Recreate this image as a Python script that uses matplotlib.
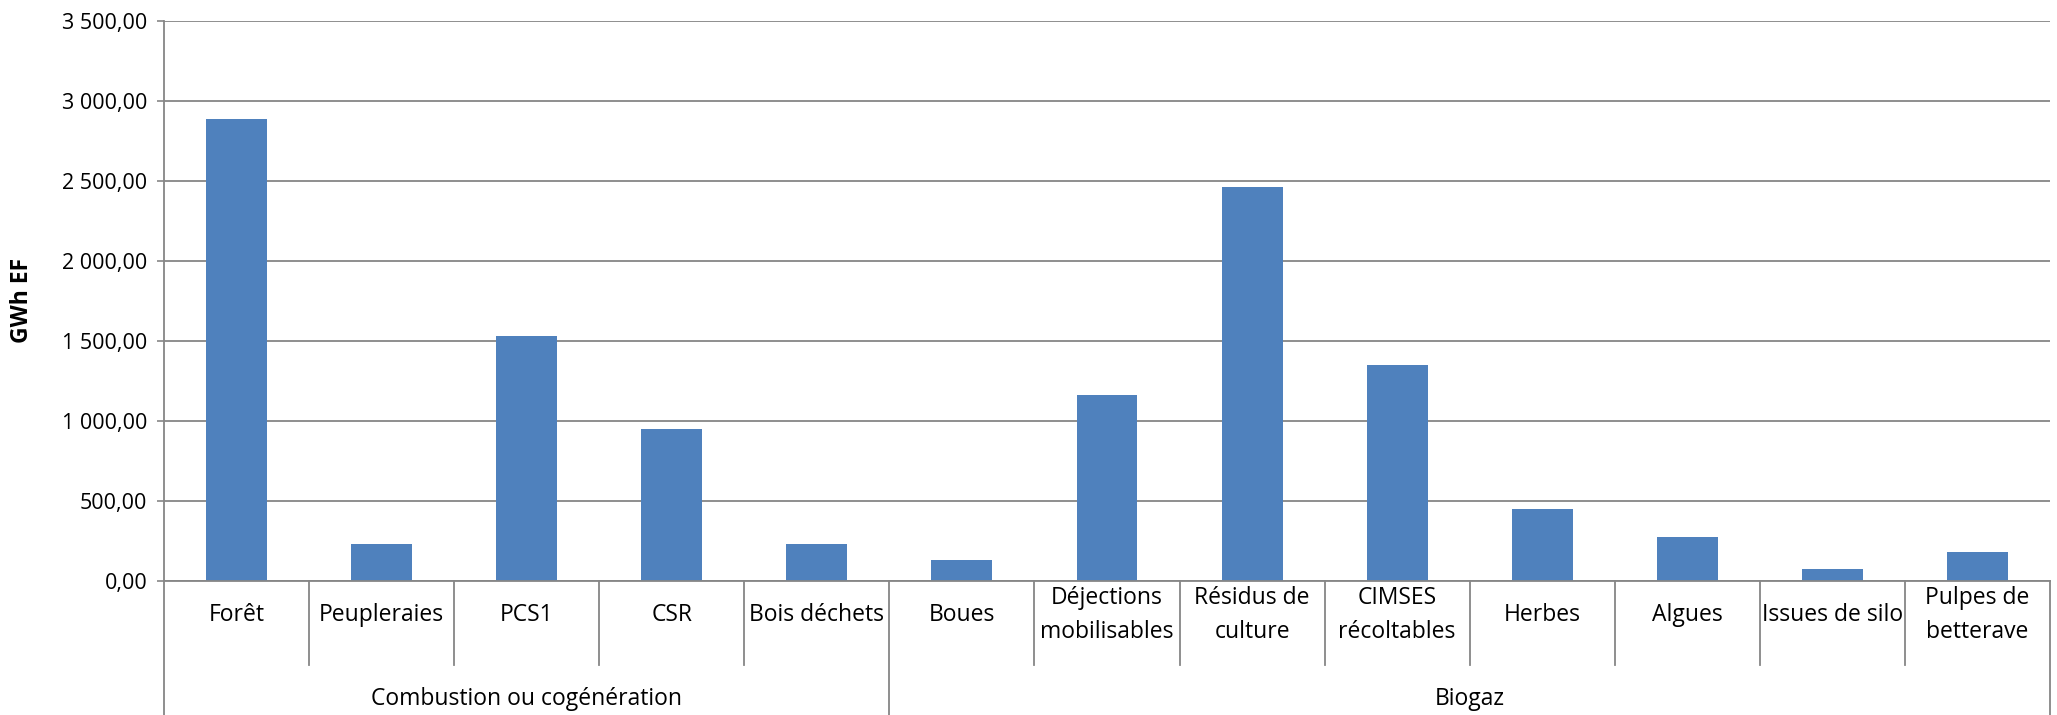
import matplotlib
matplotlib.use("Agg")
import matplotlib.pyplot as plt
from matplotlib.ticker import FuncFormatter, MultipleLocator

categories = ['Forêt', 'Peupleraies', 'PCS1', 'CSR', 'Bois déchets', 'Boues',
              'Déjections\nmobilisables', 'Résidus de\nculture', 'CIMSES\nrécoltables',
              'Herbes', 'Algues', 'Issues de silo', 'Pulpes de\nbetterave']
values = [2890, 233, 1529, 951, 229, 131, 1163, 2463, 1350, 447, 275, 75, 183]
groups = ['Combustion ou cogénération', 'Biogaz']
group_sizes = [5, 8]
y_label = 'GWh EF'

BAR = '#4F81BD'
GRID = '#868686'
W, H = 2057, 715

plt.rcParams['font.family'] = ['Open Sans', 'DejaVu Sans']

fig = plt.figure(figsize=(W / 100, H / 100), dpi=100)
# plot area in pixels: left 164, right 2050, zero line at 581, top (3500) at 21
ax = fig.add_axes([164 / W, 1 - 581 / H, (2050 - 164) / W, (581 - 21) / H])

x = list(range(len(categories)))
ax.bar(x, values, width=0.42, color=BAR, zorder=3)

ax.set_xlim(-0.5, len(categories) - 0.5)
ax.set_ylim(0, 3500)
ax.yaxis.set_major_locator(MultipleLocator(500))
ax.yaxis.set_major_formatter(FuncFormatter(lambda v, p: f"{v:,.2f}".replace(',', ' ').replace('.', ',')))
ax.tick_params(axis='y', length=5, width=1.2, color=GRID, pad=7, labelsize=15.5, labelcolor='black')
ax.set_xticks([])
ax.grid(axis='y', color=GRID, linewidth=1.3, zorder=0)
for s in ['top', 'right', 'bottom']:
    ax.spines[s].set_visible(False)
ax.spines['left'].set_color(GRID)
ax.spines['left'].set_linewidth(1.3)

# axes px height for converting pixel offsets below the plot area
ax_h = 581 - 21
def below(px):
    return -(px - 581) / ax_h

trans = ax.get_xaxis_transform()

# zero line and left axis extension
ax.plot([-0.5, len(categories) - 0.5], [0, 0], transform=trans, color=GRID, lw=1.3, clip_on=False, zorder=4)
ax.plot([-0.5, -0.5], [0, below(715)], transform=trans, color=GRID, lw=1.3, clip_on=False)

# category labels and dividers
for i, lab in enumerate(categories):
    ax.text(i, below(615), lab, transform=trans, ha='center', va='center',
            fontsize=16.5, linespacing=1.5, clip_on=False)

bounds = [0]
for g in group_sizes:
    bounds.append(bounds[-1] + g)
for i in range(1, len(categories) + 1):
    xb = i - 0.5
    bottom = below(715) if i in bounds else below(665)
    ax.plot([xb, xb], [0, bottom], transform=trans, color=GRID, lw=1.3, clip_on=False)

for gi, g in enumerate(groups):
    c = (bounds[gi] + bounds[gi + 1] - 1) / 2
    ax.text(c, below(699), g, transform=trans, ha='center', va='center',
            fontsize=16.5, clip_on=False)

fig.text(22 / W, 1 - 300 / H, y_label, rotation=90, ha='center', va='center',
         fontsize=16.5, fontweight='bold')

fig.savefig('out.png', dpi=100)
